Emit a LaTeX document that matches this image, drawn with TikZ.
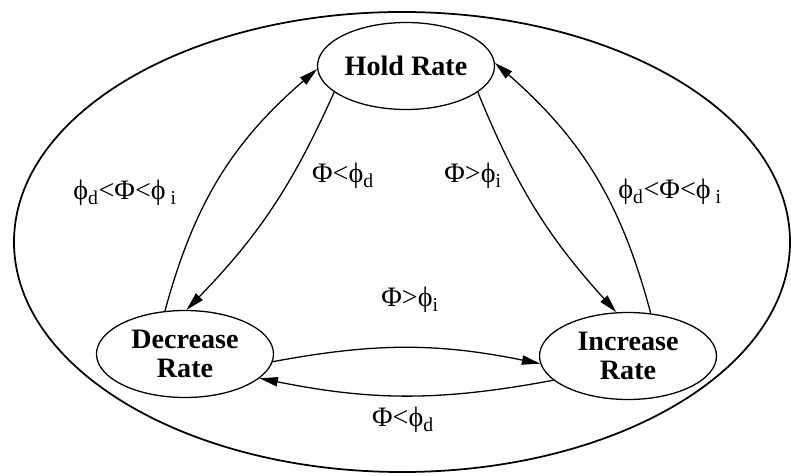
\documentclass[tikz,border=0pt]{standalone}
\usepackage{fontspec}
\setmainfont{Liberation Serif}
\usetikzlibrary{arrows.meta, shapes.geometric}

\begin{document}
\begin{tikzpicture}[
  x=0.03cm, y=0.03cm,
  state/.style={draw, ellipse, line width=1.1pt, minimum width=5.31cm, minimum height=2.61cm, inner sep=0pt, align=center, font=\fontsize{24}{25}\selectfont\bfseries},
  cond/.style={font=\fontsize{24}{26}\selectfont, inner sep=1pt},
  trans/.style={-{Triangle[length=5.5mm, width=2.8mm]}, line width=1.1pt},
  outer/.style={line width=1.5pt}
]
\useasboundingbox (0,0) rectangle (791,475);
\draw[outer] (402,233) ellipse [x radius=11.64cm, y radius=6.9cm];

\node[state] (hold) at (406,409) {Hold Rate};
\node[state] (dec) at (185,121) {Decrease\\Rate};
\node[state] (inc) at (628,119) {Increase\\Rate};

\draw[trans] (hold.200) to[bend left=10] (dec.88);
\draw[trans] (dec.115) to[bend left=17] (hold.182);
\draw[trans] (hold.340) to[bend right=10] (inc.105);
\draw[trans] (inc.62) to[bend right=17] (hold.2);
\draw[trans] (dec.355) to[bend left=11] (inc.185);
\draw[trans] (inc.198) to[bend left=11] (dec.342);

\node[cond] (lhd) at (343,299) {Φ<ϕ\textsubscript{d}};
\node[cond] (lhi) at (473,299) {Φ>ϕ\textsubscript{i}};
\node[cond] (lleft) at (125,282) {ϕ\textsubscript{d}<Φ<ϕ\textsubscript{ i}};
\node[cond] (lright) at (670,283) {ϕ\textsubscript{d}<Φ<ϕ\textsubscript{ i}};
\node[cond] (lmid) at (410,175) {Φ>ϕ\textsubscript{i}};
\node[cond] (lbot) at (403,55) {Φ<ϕ\textsubscript{d}};
\end{tikzpicture}
\end{document}
